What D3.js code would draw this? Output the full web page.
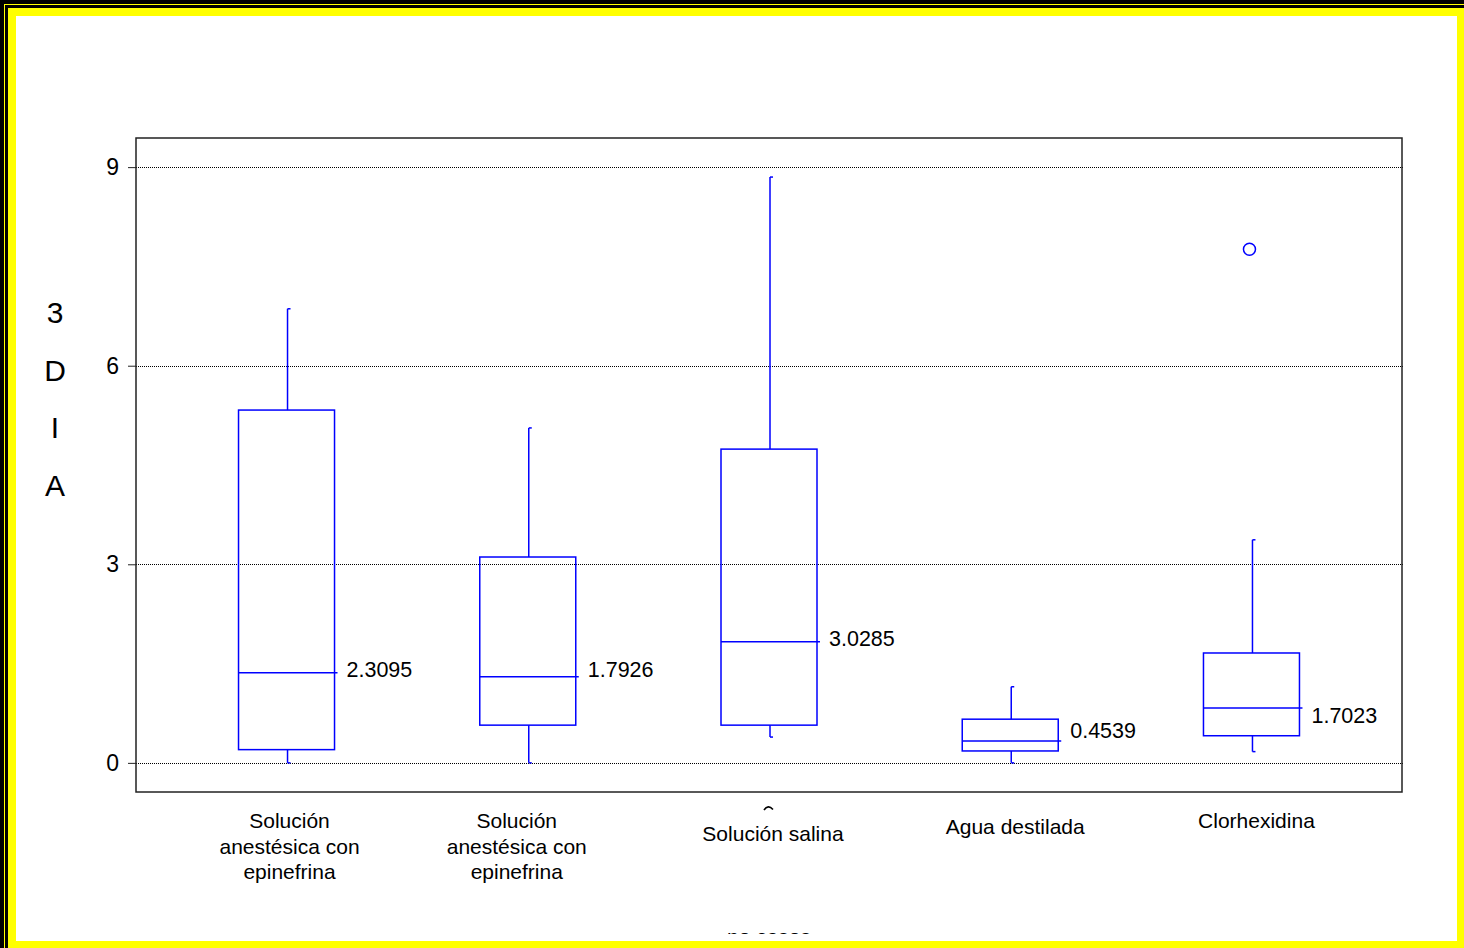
<!DOCTYPE html>
<html>
<head>
<meta charset="utf-8">
<script src="https://cdn.jsdelivr.net/npm/d3@7"></script>
<style>
  html, body { margin: 0; padding: 0; background: #fff; }
  svg { display: block; }
  text { font-family: "Liberation Sans", Arial, sans-serif; fill: #000; }
</style>
</head>
<body>
<svg id="chart" width="1464" height="948"></svg>
<script>
// Groups shown on the horizontal axis (each entry is one label, split into lines)
const groups = [
  ["Solución", "anestésica con", "epinefrina"],
  ["Solución", "anestésica con", "epinefrina"],
  ["Solución salina"],
  ["Agua destilada"],
  ["Clorhexidina"]
];

// Five-number summaries per group (3DIA)
const whiskerLow  = [0.00, 0.00, 0.39, 0.00, 0.17];
const q1          = [0.20, 0.57, 0.57, 0.18, 0.41];
const medians     = [1.36, 1.30, 1.83, 0.33, 0.83];
const q3          = [5.33, 3.11, 4.74, 0.66, 1.66];
const whiskerHigh = [6.86, 5.06, 8.85, 1.15, 3.37];

// Outlying observations: [group index, value]
const outliers = [[4, 7.76]];

// Group means printed beside each box
const meanLabels = ["2.3095", "1.7926", "3.0285", "0.4539", "1.7023"];

// Y axis ticks and title
const yTicks = [0, 3, 6, 9];
const yTitle = ["3", "D", "I", "A"];

// ---------------------------------------------------------------
const svg = d3.select("#chart");
const W = 1464, H = 948;
const FONT = '"Liberation Sans", Arial, sans-serif';

// Framed background: black outer edge with yellow bands
svg.append("rect").attr("x", 0).attr("y", 0).attr("width", W).attr("height", H).attr("fill", "#000");
svg.append("rect").attr("x", 4).attr("y", 4).attr("width", W - 4).attr("height", H - 4).attr("fill", "#ffff00");
svg.append("rect").attr("x", 5).attr("y", 5).attr("width", W - 5).attr("height", H - 5).attr("fill", "#000");
svg.append("rect").attr("x", 8).attr("y", 8).attr("width", W - 8).attr("height", H - 8).attr("fill", "#ffff00");
svg.append("rect").attr("x", 16).attr("y", 16).attr("width", 1457 - 16).attr("height", 941 - 16).attr("fill", "#fff");

const plot = { left: 136, right: 1402, top: 138, bottom: 792 };

const x = d3.scalePoint()
  .domain(d3.range(groups.length))
  .range([plot.left, plot.right])
  .padding(0.624);

const y = d3.scaleLinear()
  .domain([-0.44, 9.44])
  .range([plot.bottom, plot.top]);

const boxW = 96;
const blue = "#0000ff";

// Dotted gridlines
svg.append("g")
  .selectAll("line")
  .data(yTicks)
  .join("line")
  .attr("x1", plot.left).attr("x2", plot.right + 2)
  .attr("y1", d => Math.round(y(d)) + 0.5).attr("y2", d => Math.round(y(d)) + 0.5)
  .attr("stroke", "#000").attr("stroke-width", 1)
  .attr("stroke-dasharray", "1,1");

// Plot frame
svg.append("rect")
  .attr("x", plot.left).attr("y", plot.top)
  .attr("width", plot.right - plot.left).attr("height", plot.bottom - plot.top)
  .attr("fill", "none").attr("stroke", "#222").attr("stroke-width", 1.5);

// Y axis
const yAxis = svg.append("g")
  .attr("transform", `translate(${plot.left},0)`)
  .call(d3.axisLeft(y).tickValues(yTicks).tickSize(8).tickPadding(9).tickFormat(d3.format("d")));
yAxis.attr("font-family", FONT).attr("font-size", 23);
yAxis.select(".domain").remove();
yAxis.selectAll(".tick line").attr("stroke", "#222");
yAxis.selectAll(".tick text").attr("fill", "#000");

// Y axis title, stacked vertically
svg.append("text")
  .attr("text-anchor", "middle")
  .style("font-size", "30px")
  .selectAll("tspan")
  .data(yTitle)
  .join("tspan")
  .attr("x", 55)
  .attr("y", (d, i) => 323 + i * 57.5)
  .text(d => d);

// Boxes
const boxes = svg.append("g").attr("fill", "none").attr("stroke", blue).attr("stroke-width", 1.5);
groups.forEach((g, i) => {
  const cx = x(i);
  const wx = cx + 1;
  const b = boxes.append("g");
  // whiskers
  b.append("line").attr("x1", wx).attr("x2", wx).attr("y1", y(q3[i])).attr("y2", y(whiskerHigh[i]));
  b.append("line").attr("x1", wx).attr("x2", wx).attr("y1", y(q1[i])).attr("y2", y(whiskerLow[i]));
  // whisker caps
  b.append("line").attr("x1", wx).attr("x2", wx + 3).attr("y1", y(whiskerHigh[i])).attr("y2", y(whiskerHigh[i]));
  b.append("line").attr("x1", wx).attr("x2", wx + 3).attr("y1", y(whiskerLow[i])).attr("y2", y(whiskerLow[i]));
  // box
  b.append("rect")
    .attr("x", cx - boxW / 2).attr("y", y(q3[i]))
    .attr("width", boxW).attr("height", y(q1[i]) - y(q3[i]))
    .attr("fill", "none");
  // median
  b.append("line")
    .attr("x1", cx - boxW / 2).attr("x2", cx + boxW / 2 + 3)
    .attr("y1", y(medians[i])).attr("y2", y(medians[i]));
});

// Outliers
svg.append("g")
  .selectAll("circle")
  .data(outliers)
  .join("circle")
  .attr("cx", d => x(d[0]) - 2)
  .attr("cy", d => y(d[1]))
  .attr("r", 6)
  .attr("fill", "none").attr("stroke", blue).attr("stroke-width", 1.5);

// Mean labels beside the median lines (small vertical nudges to avoid overlaps)
const labelNudge = [-4, -8, -3, -11, 7];
svg.append("g")
  .selectAll("text")
  .data(meanLabels)
  .join("text")
  .attr("x", (d, i) => x(i) + boxW / 2 + 12)
  .attr("y", (d, i) => y(medians[i]) + labelNudge[i])
  .attr("dy", "0.36em")
  .style("font-size", "21.5px")
  .text(d => d);

// Category labels under the plot
const catDx = [3, -11, 4, 5, 5];
const catTop = [828, 828, 841, 834, 828];
const cats = svg.append("g").style("font-size", "21px").attr("text-anchor", "middle");
groups.forEach((lines, i) => {
  const t = cats.append("text");
  lines.forEach((ln, j) => {
    t.append("tspan")
      .attr("x", x(i) + catDx[i])
      .attr("y", catTop[i] + j * 25.5)
      .text(ln);
  });
});

// Small cut-off stroke above the third label
svg.append("path")
  .attr("d", `M${x(2) - 5},${810} Q${x(2) - 1},${804} ${x(2) + 4},${809.5}`)
  .attr("fill", "none").attr("stroke", "#000").attr("stroke-width", 1.6);

// Axis caption mostly hidden below the labels
const defs = svg.append("defs");
defs.append("clipPath").attr("id", "clipB")
  .append("rect").attr("x", 690).attr("y", 929.5).attr("width", 160).attr("height", 4.5);
svg.append("text")
  .attr("clip-path", "url(#clipB)")
  .attr("x", x(2)).attr("y", 944)
  .attr("text-anchor", "middle")
  .style("font-size", "21px")
  .text("no casos");
</script>
</body>
</html>
